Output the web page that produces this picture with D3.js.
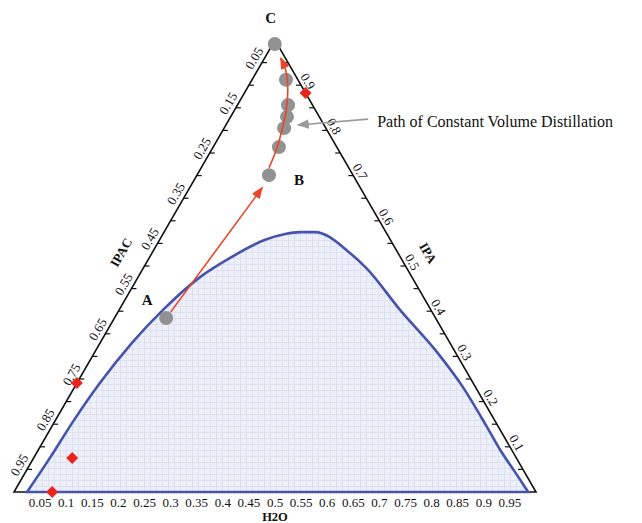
<!DOCTYPE html>
<html>
<head>
<meta charset="utf-8">
<script src="https://cdn.jsdelivr.net/npm/d3@7/dist/d3.min.js"></script>
<style>
  html, body { margin: 0; padding: 0; background: #fff; }
  svg { display: block; }
  text { font-family: "Liberation Serif", "Times New Roman", serif; fill: #111; }
</style>
</head>
<body>
<svg id="chart" width="642" height="523"></svg>
<script>
// ---- data (ternary fractions: H2O and IPA; IPAC = 1 - H2O - IPA) ----
const h2oTickValues = [0.05,0.1,0.15,0.2,0.25,0.3,0.35,0.4,0.45,0.5,0.55,0.6,0.65,0.7,0.75,0.8,0.85,0.9,0.95];
const h2oTickLabels = ["0.05","0.1","0.15","0.2","0.25","0.3","0.35","0.4","0.45","0.5","0.55","0.6","0.65","0.7","0.75","0.8","0.85","0.9","0.95"];
const ipacTickValues = [0.05,0.1,0.15,0.2,0.25,0.3,0.35,0.4,0.45,0.5,0.55,0.6,0.65,0.7,0.75,0.8,0.85,0.9,0.95];
const ipacLabelValues = [0.05,0.15,0.25,0.35,0.45,0.55,0.65,0.75,0.85,0.95];
const ipacLabels = ["0.05","0.15","0.25","0.35","0.45","0.55","0.65","0.75","0.85","0.95"];
const ipaTickValues = [0.05,0.1,0.15,0.2,0.25,0.3,0.35,0.4,0.45,0.5,0.55,0.6,0.65,0.7,0.75,0.8,0.85,0.9,0.95];
const ipaLabelValues = [0.1,0.2,0.3,0.4,0.5,0.6,0.7,0.8,0.9];
const ipaLabels = ["0.1","0.2","0.3","0.4","0.5","0.6","0.7","0.8","0.9"];

// binodal (two-phase envelope)
const binodalH2O = [0.025,0.031,0.035,0.044,0.061,0.084,0.119,0.155,0.202,0.234,0.260,0.289,0.379,0.429,0.538,0.655,0.744,0.834,0.885,0.938,0.985];
const binodalIPA = [0.000,0.075,0.153,0.241,0.330,0.403,0.476,0.518,0.558,0.571,0.575,0.575,0.529,0.494,0.403,0.310,0.232,0.144,0.093,0.044,0.000];

// constant-volume distillation path (gray points)
const pathNames = ["A","","","","","","B","C"];
const pathH2O = [0.099,0.126,0.115,0.108,0.097,0.065,0.138,0.004];
const pathIPA = [0.385,0.763,0.805,0.830,0.856,0.912,0.701,0.991];

// red path curve from B to C
const curveH2O = [0.130,0.124,0.113,0.099,0.080,0.057,0.031];
const curveIPA = [0.717,0.757,0.801,0.845,0.889,0.929,0.960];
// red straight arrow A -> B
const arrowH2O = [0.101,0.139];
const arrowIPA = [0.398,0.673];

// red diamond markers
const diamondH2O = [0.117,0.000,0.074,0.073];
const diamondIPA = [0.883,0.241,0.075,0.000];

// annotation arrow
const noteText = "Path of Constant Volume Distillation";
const noteH2O = [0.266,0.138];
const noteIPA = [0.825,0.812];

// ---- scales ----
const xScale = d3.scaleLinear().domain([0,1]).range([14,536]);
const yScale = d3.scaleLinear().domain([0,1]).range([492,40]);
const proj = (w,a) => [xScale(w + a/2), yScale(a)];

const svg = d3.select("#chart");
const defs = svg.append("defs");

// grid pattern for two-phase fill
const pat = defs.append("pattern").attr("id","grid").attr("patternUnits","userSpaceOnUse")
  .attr("width",6).attr("height",6);
pat.append("rect").attr("width",6).attr("height",6).attr("fill","#eef0f9");
pat.append("path").attr("d","M0,0.5H6M0.5,0V6").attr("stroke","#dee1f1").attr("stroke-width",1);

function marker(id, color, size){
  defs.append("marker").attr("id",id).attr("viewBox","0 0 10 10")
    .attr("refX",9).attr("refY",5).attr("markerUnits","userSpaceOnUse")
    .attr("markerWidth",size).attr("markerHeight",size).attr("orient","auto")
    .append("path").attr("d","M0,1 L10,5 L0,9 Z").attr("fill",color);
}
marker("redArrow","#e8452a",12);
marker("grayArrow","#9a9a9a",12);

// binodal region
const binodalPts = binodalH2O.map((w,i)=>proj(w,binodalIPA[i]));
const line = d3.line().curve(d3.curveMonotoneX);
svg.append("path").attr("d", line(binodalPts) + "Z")
  .attr("fill","url(#grid)").attr("stroke","none");

// triangle frame
const A0 = proj(0,0), B0 = proj(1,0), C0 = proj(0,1);
svg.append("path").attr("d",`M${A0}L${B0}L${C0}Z`).attr("fill","none")
  .attr("stroke","#111").attr("stroke-width",1.6);

// binodal line on top
svg.append("path").attr("d", line(binodalPts) + "Z")
  .attr("fill","none").attr("stroke","#4653ad").attr("stroke-width",2.6);

// left edge ticks (IPAC)
const gL = svg.append("g");
ipacTickValues.forEach(c=>{
  const p = proj(0,1-c);
  gL.append("line").attr("x1",p[0]).attr("y1",p[1]).attr("x2",p[0]+5).attr("y2",p[1])
    .attr("stroke","#111").attr("stroke-width",1.2);
});
ipacLabelValues.forEach((c,i)=>{
  const p = proj(0,1-c);
  const x = p[0] - 0.866*9, y = p[1] - 0.5*9;
  gL.append("text").attr("transform",`translate(${x},${y}) rotate(-60)`)
    .attr("text-anchor","middle").attr("dominant-baseline","central")
    .attr("font-size",13).text(ipacLabels[i]);
});
// right edge ticks (IPA)
const gR = svg.append("g");
ipaTickValues.forEach(a=>{
  const p = proj(1-a,a);
  gR.append("line").attr("x1",p[0]).attr("y1",p[1]).attr("x2",p[0]-5).attr("y2",p[1])
    .attr("stroke","#111").attr("stroke-width",1.2);
});
ipaLabelValues.forEach((a,i)=>{
  const p = proj(1-a,a);
  const x = p[0] + 0.866*8, y = p[1] - 0.5*8;
  gR.append("text").attr("transform",`translate(${x},${y}) rotate(60)`)
    .attr("text-anchor","middle").attr("dominant-baseline","central")
    .attr("font-size",13).text(ipaLabels[i]);
});
// bottom labels (H2O)
const gB = svg.append("g");
h2oTickValues.forEach((w,i)=>{
  const p = proj(w,0);
  gB.append("text").attr("x",p[0]).attr("y",p[1]+14.5).attr("text-anchor","middle")
    .attr("font-size",13).text(h2oTickLabels[i]);
});

// axis titles
svg.append("text").attr("x",xScale(0.5)).attr("y",520.5).attr("text-anchor","middle")
  .attr("font-size",12.5).attr("font-weight","bold").text("H2O");
{
  const p = proj(0,0.5);
  svg.append("text").attr("transform",`translate(${p[0]-0.866*27},${p[1]-0.5*27}) rotate(-60)`)
    .attr("text-anchor","middle").attr("dominant-baseline","central")
    .attr("font-size",13).attr("font-weight","bold").text("IPAC");
  const q = proj(0.5,0.5);
  svg.append("text").attr("transform",`translate(${q[0]+0.866*26},${q[1]-0.5*26}) rotate(60)`)
    .attr("text-anchor","middle").attr("dominant-baseline","central")
    .attr("font-size",13).attr("font-weight","bold").text("IPA");
}

// red arrow A -> B
const aPts = arrowH2O.map((w,i)=>proj(w,arrowIPA[i]));
svg.append("path").attr("d", d3.line()(aPts)).attr("fill","none")
  .attr("stroke","#e8452a").attr("stroke-width",1.6).attr("marker-end","url(#redArrow)");

// gray points
const gP = svg.append("g");
pathH2O.forEach((w,i)=>{
  const p = proj(w,pathIPA[i]);
  gP.append("circle").attr("cx",p[0]).attr("cy",p[1]).attr("r",7).attr("fill","#929292");
});

// red curve B -> C
const cPts = curveH2O.map((w,i)=>proj(w,curveIPA[i]));
svg.append("path").attr("d", d3.line().curve(d3.curveCatmullRom.alpha(0.5))(cPts)).attr("fill","none")
  .attr("stroke","#e8452a").attr("stroke-width",1.6).attr("marker-end","url(#redArrow)");

// point labels
pathNames.forEach((n,i)=>{
  if(!n) return;
  const p = proj(pathH2O[i],pathIPA[i]);
  const off = {A:[-19,-18],B:[30,5],C:[-4,-26]}[n];
  svg.append("text").attr("x",p[0]+off[0]).attr("y",p[1]+off[1]).attr("text-anchor","middle")
    .attr("dominant-baseline","central").attr("font-size",15).attr("font-weight","bold").text(n);
});

// red diamonds
diamondH2O.forEach((w,i)=>{
  const p = proj(w,diamondIPA[i]);
  svg.append("path").attr("d", d3.symbol().type(d3.symbolSquare).size(72)())
    .attr("transform",`translate(${p[0]},${p[1]}) rotate(45)`).attr("fill","#e8241c");
});

// annotation
const nPts = noteH2O.map((w,i)=>proj(w,noteIPA[i]));
svg.append("path").attr("d", d3.line()(nPts)).attr("fill","none")
  .attr("stroke","#9a9a9a").attr("stroke-width",1.6).attr("marker-end","url(#grayArrow)");
svg.append("text").attr("x",nPts[0][0]+9).attr("y",nPts[0][1]+8)
  .attr("font-size",16).text(noteText);
</script>
</body>
</html>
